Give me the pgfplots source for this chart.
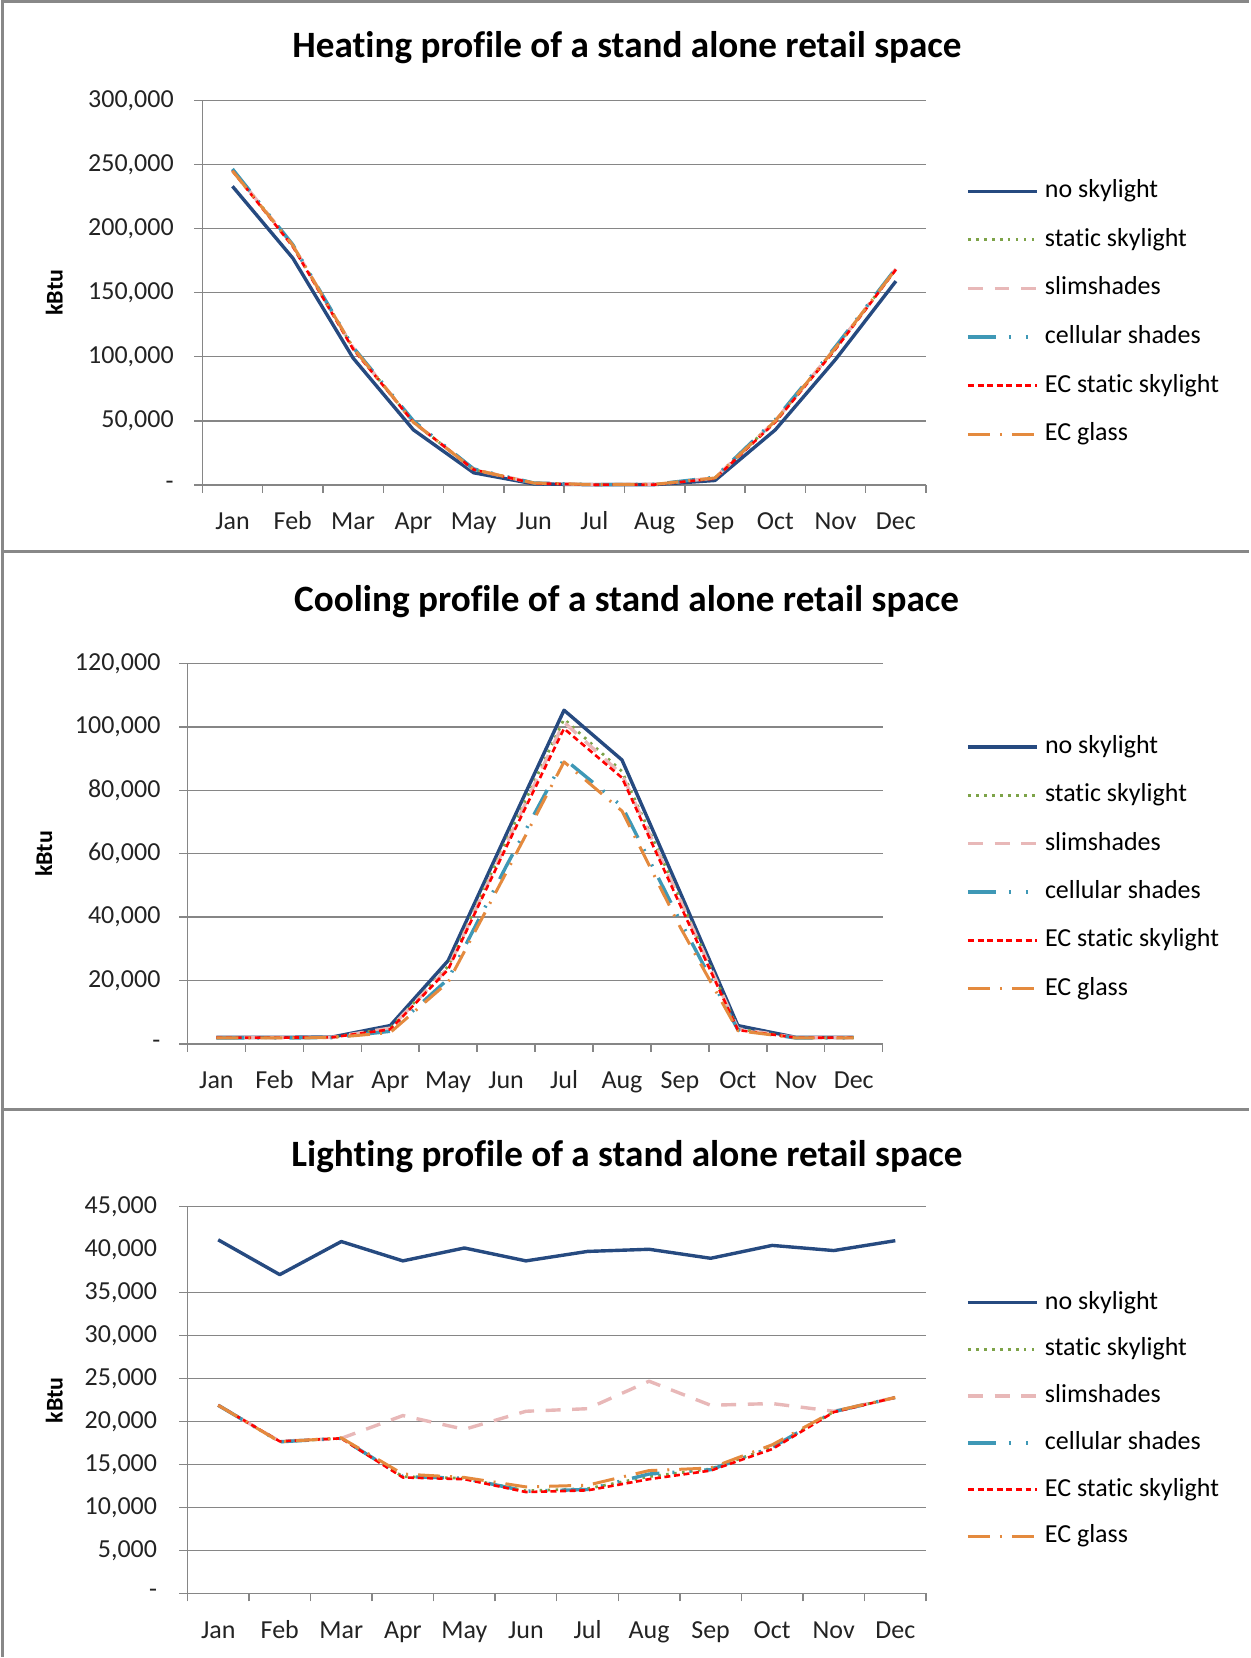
\documentclass[border=0pt]{standalone}
\usepackage{fontspec}
\setmainfont{Carlito}[Ligatures=NoCommon]
\usepackage{pgfplots}
\pgfplotsset{compat=1.18}
\usepackage{pgfplotstable}

\definecolor{cnavy}{RGB}{38,74,128}
\definecolor{cgreen}{RGB}{125,163,72}
\definecolor{cpink}{RGB}{232,184,184}
\definecolor{cteal}{RGB}{62,152,182}
\definecolor{cred}{RGB}{255,0,0}
\definecolor{corange}{RGB}{228,138,62}
\definecolor{agray}{RGB}{134,134,134}
\definecolor{tgray}{RGB}{35,35,35}
\definecolor{fgray}{RGB}{136,136,136}

\pgfplotstableread{
m ns st sl ce ecs ecg
1 233000 246000 246000 246500 245000 245000
2 177000 187000 187000 187500 186000 187000
3 99000 107000 107000 107500 106000 107000
4 43000 49000 49000 50000 49000 49000
5 9500 12000 12000 12500 12000 12000
6 800 1500 1500 1500 1200 1500
7 200 300 300 300 200 300
8 300 500 500 500 300 500
9 3500 5500 5500 6000 5000 5500
10 43000 50000 50000 51000 49000 50000
11 98000 107000 107000 108000 106000 107000
12 159000 168500 168500 169000 168000 168500
}\heat

\pgfplotstableread{
m ns st sl ce ecs ecg
1 2100 2000 2000 1900 2000 1900
2 2100 2000 2000 1900 2000 1900
3 2200 2100 2100 2000 2100 2000
4 5800 5000 5000 4000 4600 3600
5 26300 24500 24000 20500 23500 19500
6 66000 64000 63000 56000 62000 54000
7 105300 102500 101500 90000 99500 89000
8 89600 86000 85000 75000 84000 73500
9 48000 46000 45500 39000 44000 37000
10 5800 4800 4800 4500 4400 4200
11 2100 2000 2000 1900 2000 1900
12 2100 2000 2000 1900 2000 1900
}\cool

\pgfplotstableread{
m ns st sl ce ecs ecg
1 41150 21900 21900 21900 21900 21900
2 37100 17650 17700 17650 17700 17650
3 40950 18050 18050 18050 18050 18100
4 38700 13600 20700 13600 13500 13900
5 40200 13400 19100 13400 13300 13500
6 38700 11950 21200 11900 11800 12400
7 39800 12200 21500 12100 12000 12600
8 40050 13600 24700 13900 13300 14300
9 39000 14500 21900 14400 14300 14600
10 40500 17000 22100 17000 16800 17300
11 39900 21150 21200 21150 21100 21200
12 41050 22800 22800 22800 22800 22800
}\light

\pgfplotsset{
  base/.style={
    scale only axis, anchor=south west,
    xmin=0.5, xmax=12.5,
    scaled y ticks=false,
    axis x line*=bottom, axis y line*=left,
    axis line style={-, draw=agray, line width=0.7pt},
    ymajorgrids, major grid style={agray, line width=0.7pt},
    tick align=outside, major tick length=4pt,
    tick style={agray, line width=0.7pt},
    xtick={0.5,1.5,...,12.5}, xticklabels={},
    extra x ticks={1,2,...,12},
    extra x tick labels={Jan,Feb,Mar,Apr,May,Jun,Jul,Aug,Sep,Oct,Nov,Dec},
    extra x tick style={tick style={draw=none}},
    ticklabel style={font=\fontsize{13}{15}\selectfont, text=tgray},
    xticklabel style={anchor=north, text height=9.5pt, text depth=3pt, yshift=-5.5pt},
    clip=false,
    legend cell align=left,
    legend style={draw=none, fill=none, anchor=west, inner sep=0pt, outer sep=0pt,
      font=\fontsize{13}{15}\selectfont,
      nodes={inner xsep=3.2pt, inner ysep=0pt, text height=9.5pt, text depth=3pt}},
    legend image code/.code={\draw[##1] (0pt,0pt) -- (34.5pt,0pt);},
    every axis plot/.append style={line join=round},
  },
  pns/.style={cnavy, line width=1.7pt},
  pst/.style={cgreen, line width=1.4pt, dash pattern=on 1.3pt off 2.7pt},
  psl/.style={cpink, line width=1.7pt, dash pattern=on 7.5pt off 5.8pt},
  pce/.style={cteal, line width=1.7pt, dash pattern=on 14pt off 6.5pt on 1pt off 7.5pt on 1pt off 6.5pt},
  pecs/.style={cred, line width=1.3pt, dash pattern=on 3pt off 1.8pt},
  pecg/.style={corange, line width=1.5pt, dash pattern=on 11pt off 5pt on 1pt off 5pt},
}

\begin{document}
\begin{tikzpicture}
\path (0pt,0pt) rectangle (624.5pt,-829pt);
% frame
\draw[fgray, line width=1.5pt] (0.75pt,-829pt) -- (0.75pt,-0.75pt) -- (624.5pt,-0.75pt);
\draw[fgray, line width=1.5pt] (0pt,-276pt) -- (624.5pt,-276pt);
\draw[fgray, line width=1.5pt] (0pt,-555pt) -- (624.5pt,-555pt);

% titles and y labels
\node[font=\fontsize{18.6}{22}\selectfont\bfseries] at (313pt,-24pt) {Heating profile of a stand alone retail space};
\node[font=\fontsize{18.6}{22}\selectfont\bfseries] at (312.8pt,-301pt) {Cooling profile of a stand alone retail space};
\node[font=\fontsize{18.6}{22}\selectfont\bfseries] at (313pt,-578.6pt) {Lighting profile of a stand alone retail space};
\node[font=\fontsize{12}{14}\selectfont\bfseries, rotate=90] at (26.4pt,-146.5pt) {kBtu};
\node[font=\fontsize{12}{14}\selectfont\bfseries, rotate=90] at (21.2pt,-427.3pt) {kBtu};
\node[font=\fontsize{12}{14}\selectfont\bfseries, rotate=90] at (26.4pt,-700.7pt) {kBtu};

% Heating
\begin{axis}[base, at={(100.5pt,-242.7pt)}, width=362.2pt, height=192.45pt,
  ymin=0, ymax=300000, ytick={0,50000,100000,150000,200000,250000,300000},
  yticklabels={{-\hspace{5pt}},{50,000},{100,000},{150,000},{200,000},{250,000},{300,000}},
  yticklabel style={xshift=-6.8pt},
  legend style={at={(1.0555,0.4480)}, row sep=11.8pt}]
\addplot[pns] table[x=m,y=ns]{\heat};
\addplot[pst] table[x=m,y=st]{\heat};
\addplot[psl] table[x=m,y=sl]{\heat};
\addplot[pce] table[x=m,y=ce]{\heat};
\addplot[pecs] table[x=m,y=ecs]{\heat};
\addplot[pecg] table[x=m,y=ecg]{\heat};
\legend{no skylight,static skylight,slimshades,cellular shades,EC static skylight,EC glass}
\end{axis}

% Cooling
\begin{axis}[base, at={(93.05pt,-522.45pt)}, width=347.95pt, height=190.35pt,
  ymin=0, ymax=120000, ytick={0,20000,40000,60000,80000,100000,120000},
  yticklabels={{-\hspace{5pt}},{20,000},{40,000},{60,000},{80,000},{100,000},{120,000}},
  yticklabel style={xshift=-6pt},
  legend style={at={(1.1202,0.4630)}, row sep=11.7pt}]
\addplot[pns] table[x=m,y=ns]{\cool};
\addplot[pst] table[x=m,y=st]{\cool};
\addplot[psl] table[x=m,y=sl]{\cool};
\addplot[pce] table[x=m,y=ce]{\cool};
\addplot[pecs] table[x=m,y=ecs]{\cool};
\addplot[pecg] table[x=m,y=ecg]{\cool};
\legend{no skylight,static skylight,slimshades,cellular shades,EC static skylight,EC glass}
\end{axis}

% Lighting
\begin{axis}[base, at={(93.05pt,-797.45pt)}, width=369.65pt, height=193.55pt,
  ymin=0, ymax=45000, ytick={0,5000,10000,15000,20000,25000,30000,35000,45000},
  yticklabels={{-\hspace{5pt}},{5,000},{10,000},{15,000},{20,000},{25,000},{30,000},{35,000},{45,000}},
  extra y ticks={40000}, extra y tick labels={40{,}000},
  extra y tick style={tick style={draw=none}, major grid style={draw=none}},
  yticklabel style={xshift=-7.7pt},
  legend style={at={(1.0544,0.4500)}, row sep=10.9pt}]
\addplot[pns] table[x=m,y=ns]{\light};
\addplot[pst] table[x=m,y=st]{\light};
\addplot[psl] table[x=m,y=sl]{\light};
\addplot[pce] table[x=m,y=ce]{\light};
\addplot[pecs] table[x=m,y=ecs]{\light};
\addplot[pecg] table[x=m,y=ecg]{\light};
\legend{no skylight,static skylight,slimshades,cellular shades,EC static skylight,EC glass}
\end{axis}
\end{tikzpicture}
\end{document}
